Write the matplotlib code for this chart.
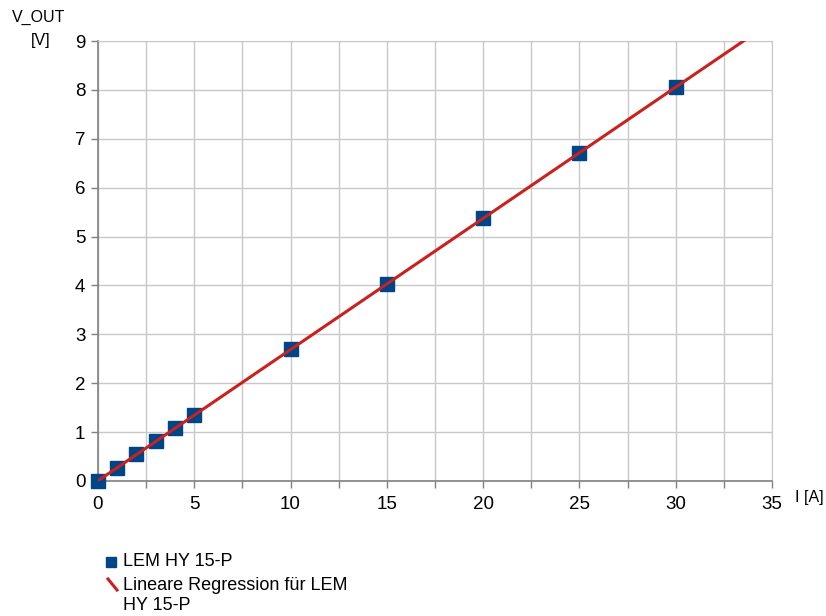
import numpy as np
import matplotlib
matplotlib.use('Agg')
import matplotlib.pyplot as plt
from matplotlib.lines import Line2D
from matplotlib.ticker import MultipleLocator

plt.rcParams['font.family'] = ['Liberation Sans', 'DejaVu Sans']

# Measured data: current I [A] vs output voltage V_OUT [V]
current = [0, 1, 2, 3, 4, 5, 10, 15, 20, 25, 30]
v_out = [0.0, 0.27, 0.55, 0.81, 1.08, 1.34, 2.69, 4.03, 5.37, 6.71, 8.06]

series_label = 'LEM HY 15-P'
fit_label = ['Lineare Regression für LEM', 'HY 15-P']

BLUE = '#004586'
RED = '#c9211e'
GRID = '#c8c8c8'
AXIS = '#808080'

fig = plt.figure(figsize=(8.26, 6.16), dpi=100)
ax = fig.add_axes([0.1186, 0.2192, 0.816, 0.7142])

# Regression line from the measured points
slope, intercept = np.polyfit(current, v_out, 1)
xfit = np.array([0, 35])
ax.plot(xfit, slope * xfit + intercept, color=RED, lw=2.2, zorder=4,
        solid_capstyle='butt')
ax.plot(current, v_out, linestyle='none', marker='s', markersize=10,
        color=BLUE, zorder=3, clip_on=False)

ax.set_xlim(0, 35)
ax.set_ylim(0, 9)
ax.xaxis.set_major_locator(MultipleLocator(5))
ax.xaxis.set_minor_locator(MultipleLocator(2.5))
ax.yaxis.set_major_locator(MultipleLocator(1))
ax.grid(which='both', color=GRID, lw=1)
ax.set_axisbelow(True)

for side in ['top', 'right']:
    ax.spines[side].set_color(GRID)
for side in ['left', 'bottom']:
    ax.spines[side].set_color(AXIS)
    ax.spines[side].set_linewidth(1.2)

ax.tick_params(which='both', direction='out', color=AXIS, length=5, width=1,
               labelsize=13.5, pad=4)
ax.tick_params(axis='x', pad=6)

# Axis titles
fig.text(0.047, 0.971, 'V_OUT', ha='center', va='center', fontsize=11.5)
fig.text(0.049, 0.935, '[V]', ha='center', va='center', fontsize=11.5)
fig.text(0.963, 0.193, 'I [A]', ha='left', va='center', fontsize=11.5)

# Legend below the plot, drawn by hand to match the layout
fig.add_artist(Line2D([110.5 / 826], [1 - 562 / 616], marker='s', markersize=7,
                      color=BLUE, linestyle='none', transform=fig.transFigure))
fig.add_artist(Line2D([108 / 826, 117 / 826], [1 - 579 / 616, 1 - 590 / 616],
                      color=RED, lw=2.2, transform=fig.transFigure))
fig.text(123 / 826, 1 - 562 / 616, series_label, ha='left', va='center', fontsize=13)
fig.text(123 / 826, 1 - 585 / 616, fit_label[0], ha='left', va='center', fontsize=13)
fig.text(123 / 826, 1 - 606 / 616, fit_label[1], ha='left', va='center', fontsize=13)

fig.savefig('out.png', dpi=100)
